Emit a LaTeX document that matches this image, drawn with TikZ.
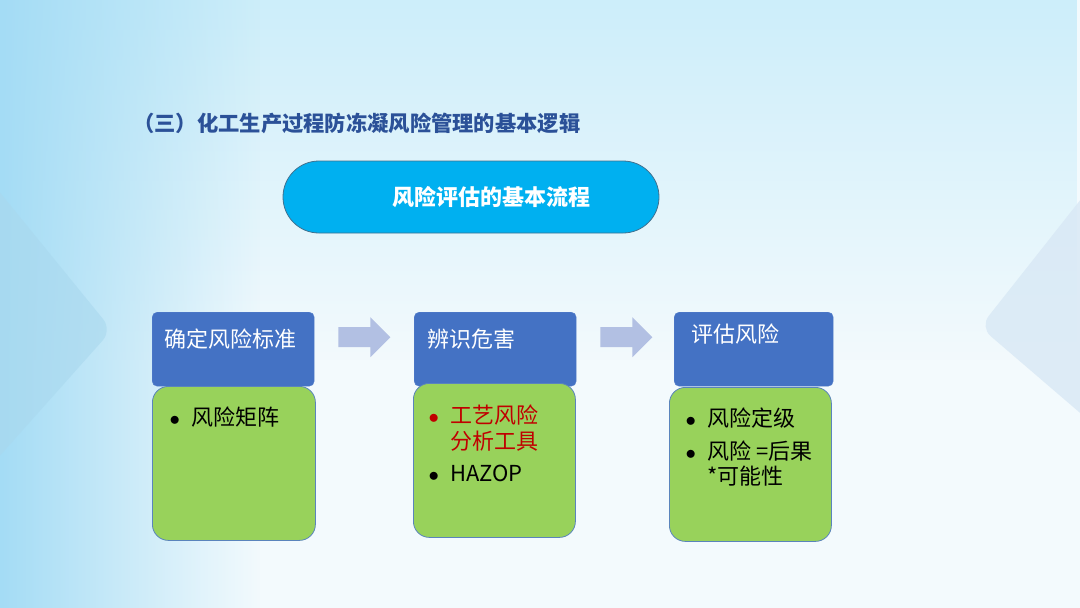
\documentclass[tikz,border=0pt]{standalone}
\usepackage{fontspec}
\setmainfont{Noto Sans CJK SC}
\usetikzlibrary{fadings}
\definecolor{titleblue}{HTML}{2B5198}
\definecolor{pillblue}{HTML}{00B0F0}
\definecolor{pilledge}{HTML}{41718F}
\definecolor{headblue}{HTML}{4472C4}
\definecolor{leafgreen}{HTML}{98D25B}
\definecolor{leafedge}{HTML}{5A84BC}
\definecolor{arrowgrey}{HTML}{B2C0E3}
\definecolor{riskred}{HTML}{C00000}
\definecolor{bgbase}{HTML}{F3FAFD}
\definecolor{bgcyan}{HTML}{A4DCF5}
\definecolor{bgtop}{HTML}{CDEEFA}
\definecolor{chevleft}{HTML}{A9D8EE}
\definecolor{chevright}{HTML}{D8E8F5}
\tikzfading[name=fadeoutright, left color=transparent!0, right color=transparent!100]
\tikzfading[name=fadeoutdown, top color=transparent!0, bottom color=transparent!100]
\newcommand{\blt}[1][black]{\makebox[19pt][l]{\hspace*{-2.5pt}\textcolor{#1}{$\bullet$}}}

\begin{document}
\begin{tikzpicture}[x=1pt, y=-1pt,
    headbox/.style={fill=headblue, draw=headblue!90!white, rounded corners=5pt,
      minimum height=74pt, inner sep=0pt, anchor=north west},
    leafbox/.style={fill=leafgreen, draw=leafedge, line width=0.8pt,
      rounded corners=16pt, minimum height=154pt, inner sep=0pt, anchor=north west},
    headtext/.style={text=white, font=\fontsize{22}{26}\selectfont, inner sep=0pt, anchor=west},
    leaftext/.style={font=\fontsize{22}{25.5}\selectfont, align=left, inner sep=0pt,
      anchor=north west}]
  % background
  \useasboundingbox (0,0) rectangle (1080,608);
  \fill[bgbase] (0,0) rectangle (1080,608);
  \fill[bgtop, path fading=fadeoutdown] (0,0) rectangle (1080,360);
  \fill[bgcyan, path fading=fadeoutright] (0,0) rectangle (260,608);
  \fill[chevleft, opacity=0.6, rounded corners=14pt]
    (-20,168) -- (112,330) -- (-20,478) -- cycle;
  \fill[chevright, opacity=0.8, rounded corners=14pt]
    (1100,175) -- (980,327) -- (1100,430) -- cycle;

  % title and banner
  \node[anchor=west, text=titleblue, font=\fontsize{21.3}{25}\selectfont\bfseries, inner sep=0pt]
    (title) at (133,123) {（三）化工生产过程防冻凝风险管理的基本逻辑};
  \node[fill=pillblue, draw=pilledge, line width=0.8pt, rounded corners=36pt,
    minimum width=376pt, minimum height=72pt, text=white,
    font=\fontsize{22}{26}\selectfont\bfseries]
    (flow) at (471,197) {\hspace*{40pt}风险评估的基本流程};

  % three stages
  \foreach \i/\hx/\hw/\bx/\by/\bw/\tx/\ty/\head in {%
    1/152/162/152/386/163/164/339/确定风险标准,
    2/414/162/413/383/162/427/339/辨识危害,
    3/674/159/669/387/162/691/334/评估风险} {
    \node[headbox, minimum width=\hw pt] (head\i) at (\hx,312) {};
    \node[headtext] (headtext\i) at (\tx,\ty) {\head};
    \node[leafbox, minimum width=\bw pt] (leaf\i) at (\bx,\by) {};
  }
  \foreach \i in {1,2}
    \fill[arrowgrey] ([xshift=24pt,yshift=22pt]head\i.east) -- ++(32,0) -- ++(0,-10)
      -- ++(20,20) -- ++(-20,20) -- ++(0,-10) -- ++(-32,0) -- cycle;

  \node[leaftext] (items1) at (172,407) {\blt 风险矩阵};
  \node[leaftext] (items2) at (431,405)
    {\blt[riskred]\textcolor{riskred}{工艺风险}\\
     \hspace*{19pt}\textcolor{riskred}{分析工具}\\[7pt]
     \blt HAZOP};
  \node[leaftext] (items3) at (688,408)
    {\blt 风险定级\\[7pt]
     \blt 风险 =后果\\
     \hspace*{19pt}*可能性};
\end{tikzpicture}
\end{document}
